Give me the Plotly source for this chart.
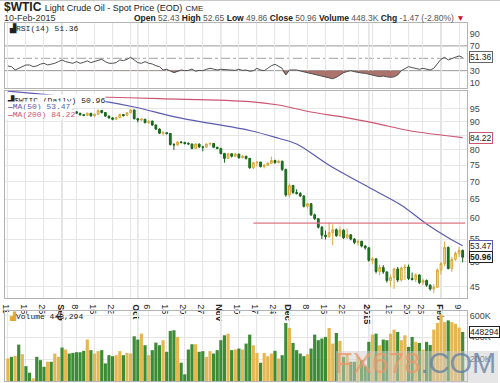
import math
import pandas as pd
import plotly.graph_objects as go

# ---------------- DATA ----------------
holidays = ['2014-09-01', '2014-11-27', '2014-12-25', '2015-01-01', '2015-01-19']
dates = [d.strftime('%Y-%m-%d') for d in pd.bdate_range('2014-08-11', '2015-02-10')
         if d.strftime('%Y-%m-%d') not in holidays]

opens = [97.6, 98.1, 97.4, 97.6, 95.6, 97.4, 96.4, 94.5, 96.1, 95.4, 94.3, 93.4, 94.0, 93.9, 94.5,
         95.9, 95.2, 95.5, 94.5, 93.9, 93.3, 92.7, 92.5, 93.3, 92.3, 92.9, 94.4, 93.6, 92.2, 91.5,
         91.0, 91.6, 92.8, 92.4, 93.5, 94.6, 91.2, 90.7, 91.0, 89.7, 90.3, 88.8, 87.3, 85.8, 86.0,
         85.7, 81.8, 81.7, 82.7, 82.5, 82.2, 82.0, 80.5, 82.0, 81.0, 80.9, 82.0, 82.2, 80.9, 80.5,
         78.8, 77.2, 78.7, 77.9, 78.6, 77.4, 77.9, 77.2, 74.2, 75.8, 76.0, 74.6, 75.0, 75.6, 76.5,
         75.8, 76.3, 73.7, 66.2, 68.9, 66.9, 66.6, 65.9, 63.1, 63.8, 60.9, 59.9, 57.8, 55.9, 55.6,
         56.5, 57.2, 55.8, 57.1, 55.3, 56.0, 55.0, 54.2, 54.5, 53.4, 53.0, 50.3, 50.6, 48.0, 48.8,
         47.9, 46.2, 46.8, 48.5, 46.3, 48.7, 48.9, 46.6, 46.4, 47.3, 45.8, 46.2, 45.3, 44.6, 44.9,
         48.3, 49.6, 53.1, 48.6, 50.5, 51.8, 52.43]
highs = [98.6, 98.3, 98.0, 97.7, 97.8, 97.5, 96.5, 96.3, 96.2, 95.6, 94.5, 94.3, 94.2, 94.9, 96.2,
         96.0, 95.9, 95.6, 94.7, 94.1, 93.5, 93.0, 93.6, 93.4, 93.2, 94.8, 94.5, 93.8, 92.4, 91.8,
         92.0, 93.2, 93.0, 93.8, 95.0, 94.7, 91.5, 91.4, 91.1, 90.6, 90.4, 89.0, 87.6, 86.5, 86.2,
         85.9, 82.3, 83.0, 83.0, 82.8, 82.6, 82.1, 82.3, 82.1, 81.4, 82.2, 82.5, 82.3, 81.0, 80.6,
         79.0, 79.0, 78.9, 78.9, 78.7, 78.2, 78.0, 77.3, 76.0, 76.3, 76.1, 75.4, 76.0, 77.8, 76.8,
         76.8, 76.4, 73.9, 69.5, 69.0, 67.8, 67.0, 66.1, 64.0, 64.0, 61.2, 60.1, 58.1, 57.0, 59.0,
         58.5, 57.5, 58.0, 57.3, 57.5, 56.1, 55.2, 54.9, 54.6, 53.6, 53.2, 51.0, 50.8, 49.4, 49.3,
         48.0, 47.3, 48.8, 48.9, 49.0, 49.5, 49.4, 47.8, 47.6, 47.4, 46.6, 46.4, 45.5, 45.5, 48.6,
         50.0, 54.4, 53.3, 51.0, 52.2, 53.2, 52.65]
lows = [97.3, 97.0, 97.0, 95.3, 95.5, 96.0, 94.2, 94.3, 95.0, 94.0, 93.1, 93.2, 93.5, 93.6, 94.3,
        94.8, 94.9, 94.2, 93.6, 93.0, 92.4, 92.2, 92.3, 92.0, 91.8, 92.6, 93.2, 91.9, 91.2, 90.6,
        90.8, 91.4, 92.0, 92.2, 93.3, 90.9, 89.8, 90.2, 89.4, 89.3, 88.5, 87.0, 85.5, 85.0, 85.3,
        81.5, 80.0, 81.3, 82.2, 81.8, 81.7, 80.2, 80.3, 80.7, 79.5, 80.7, 81.5, 80.6, 80.2, 78.5,
        75.8, 77.0, 77.5, 77.6, 77.1, 77.2, 76.8, 73.9, 73.8, 74.6, 74.3, 74.0, 74.8, 75.4, 75.5,
        75.6, 73.2, 65.7, 65.5, 66.5, 66.3, 65.6, 62.8, 62.5, 60.6, 59.6, 57.5, 55.0, 54.9, 55.3,
        53.6, 55.5, 55.5, 55.0, 55.1, 54.7, 53.8, 53.5, 53.1, 52.6, 50.0, 49.5, 47.6, 47.2, 47.5,
        45.8, 45.0, 44.6, 45.9, 46.0, 46.3, 46.3, 46.2, 45.9, 45.5, 45.3, 45.0, 44.3, 43.8, 44.8,
        47.4, 49.1, 48.4, 47.9, 50.2, 51.0, 49.86]
closes = [98.1, 97.4, 97.6, 95.6, 97.4, 96.4, 94.5, 96.1, 95.4, 94.3, 93.4, 94.0, 93.9, 94.5, 95.9,
          95.2, 95.5, 94.5, 93.9, 93.3, 92.7, 92.5, 93.3, 92.3, 92.9, 94.4, 93.6, 92.2, 91.5, 91.0,
          91.6, 92.8, 92.4, 93.5, 94.6, 91.2, 90.7, 91.0, 89.7, 90.3, 88.8, 87.3, 85.8, 86.0, 85.7,
          81.8, 81.7, 82.7, 82.5, 82.2, 82.0, 80.5, 82.0, 81.0, 80.9, 82.0, 82.2, 80.9, 80.5, 78.8,
          77.2, 78.7, 77.9, 78.6, 77.4, 77.9, 77.2, 74.2, 75.8, 76.0, 74.6, 75.0, 75.6, 76.5, 75.8,
          76.3, 73.7, 66.2, 68.9, 66.9, 66.6, 65.9, 63.1, 63.8, 60.9, 59.9, 57.8, 55.9, 55.6, 56.5,
          57.2, 55.8, 57.1, 55.3, 56.0, 55.0, 54.2, 54.5, 53.4, 53.0, 50.3, 50.6, 48.0, 48.8, 47.9,
          46.2, 46.8, 48.5, 46.3, 48.7, 48.9, 46.6, 46.4, 47.3, 45.8, 46.2, 45.3, 44.6, 44.9, 48.3,
          49.6, 53.1, 48.6, 50.5, 51.8, 52.43, 50.96]
volume_k = [206, 221, 230, 333, 245, 136, 76, 24, 221, 191, 130, 176, 176, 251, 221,
            306, 288, 251, 257, 263, 263, 276, 379, 282, 251, 273, 282, 161, 236, 227,
            236, 273, 236, 257, 251, 409, 379, 433, 327, 236, 282, 351, 327, 373, 267,
            458, 464, 403, 167, 61, 288, 336, 336, 267, 273, 221, 273, 251, 282, 373,
            418, 433, 282, 288, 297, 288, 342, 424, 327, 257, 167, 257, 227, 251, 276,
            206, 236, 530, 485, 348, 282, 251, 227, 245, 297, 424, 373, 388, 403, 485,
            342, 439, 367, 221, 251, 176, 176, 221, 191, 136, 358, 424, 433, 327, 379,
            373, 433, 470, 448, 373, 418, 312, 403, 358, 348, 288, 358, 330, 470, 530,
            609, 539, 554, 539, 524, 488, 448.294]
rsi = [37.6, 36.5, 31.1, 33.8, 37.0, 39.2, 39.2, 36.5, 37.6, 40.5, 41.9, 39.2, 40.5, 41.9, 44.6,
       47.3, 44.6, 43.0, 41.9, 44.6, 41.9, 43.5, 45.7, 43.0, 44.6, 47.0, 48.4, 44.6, 42.0, 41.9,
       43.0, 47.3, 46.2, 48.4, 51.6, 47.3, 43.0, 41.9, 44.6, 42.0, 40.8, 38.0, 36.5, 31.1, 32.2,
       29.5, 26.8, 29.0, 31.1, 30.0, 30.5, 32.7, 29.0, 30.5, 30.0, 32.2, 33.8, 32.5, 31.1, 32.2,
       31.6, 31.1, 30.0, 30.5, 32.2, 30.5, 31.1, 29.0, 30.0, 33.8, 31.0, 30.0, 33.8, 38.0, 40.3,
       37.6, 33.8, 23.0, 31.1, 31.1, 31.1, 29.5, 28.0, 26.8, 25.5, 24.6, 22.5, 21.4, 19.2, 18.0,
       17.0, 19.2, 23.0, 26.8, 28.5, 30.0, 28.4, 26.8, 26.2, 25.7, 24.0, 23.0, 21.5, 20.3, 21.4,
       20.0, 19.2, 20.0, 23.0, 30.0, 33.8, 36.5, 35.0, 33.8, 32.2, 33.8, 32.5, 31.1, 33.8, 41.9,
       48.4, 51.6, 47.3, 49.5, 51.6, 53.8, 51.36]

ma50_dates = ['2014-08-11', '2014-08-25', '2014-09-02', '2014-09-16', '2014-09-30', '2014-10-17',
              '2014-11-13', '2014-11-25', '2014-12-03', '2014-12-16', '2015-01-05', '2015-01-15',
              '2015-01-27', '2015-02-04', '2015-02-10']
ma50_vals = [102.4, 101.0, 100.3, 98.5, 95.8, 91.4, 86.8, 84.0, 82.0, 75.0, 67.8, 63.4, 58.6, 55.3, 53.47]
ma200_dates = ['2014-08-11', '2014-09-16', '2014-10-09', '2014-11-13', '2014-11-25', '2014-12-09',
               '2014-12-22', '2015-01-06', '2015-01-20', '2015-02-10']
ma200_vals = [100.3, 99.9, 99.2, 98.0, 96.6, 93.8, 91.8, 89.4, 86.8, 84.22]

resistance_level = 58.8
resistance_start = '2014-11-14'

grid_dates = ['2014-08-11', '2014-08-18', '2014-08-25', '2014-09-02', '2014-09-08', '2014-09-15',
              '2014-09-22', '2014-09-29', '2014-10-01', '2014-10-06', '2014-10-13', '2014-10-20',
              '2014-10-27', '2014-11-03', '2014-11-10', '2014-11-17', '2014-11-24', '2014-12-01',
              '2014-12-08', '2014-12-15', '2014-12-22', '2014-12-29', '2015-01-02', '2015-01-05',
              '2015-01-12', '2015-01-20', '2015-01-26', '2015-02-02', '2015-02-09']
grid_labels = ['11', '18', '25', '<b>Sep</b>', '8', '15', '22', '', '<b>Oct</b>', '6', '13', '20',
               '27', '<b>Nov</b>', '10', '17', '24', '<b>Dec</b>', '8', '15', '22', '', '<b>2015</b>', '',
               '12', '20', '26', '<b>Feb</b>', '9']
month_starts = ['2014-09-02', '2014-10-01', '2014-11-03', '2014-12-01', '2015-01-02', '2015-02-02']

price_ticks = [45, 50, 55, 60, 65, 70, 75, 80, 85, 90, 95]
rsi_ticks = [10, 30, 50, 70, 90]
vol_ticks = [200000, 400000, 600000]
vol_tick_labels = ['200K', '400K', '600K']

# ---------------- BUILD ----------------
n = len(dates)
X = list(range(n))
day = {d: i for i, d in enumerate(dates)}
volume = [v * 1000 for v in volume_k]

UP_LINE, UP_FILL = '#d8a636', '#f4dc98'
DN_LINE, DN_FILL = '#16641a', '#1f7d24'
VOL_UP, VOL_DN = '#e6b650', '#3c8c35'
MA50_C, MA200_C = '#5b5bb0', '#cc5570'

prev = [opens[0]] + closes[:-1]
vol_colors = [VOL_UP if c >= p else VOL_DN for c, p in zip(closes, prev)]

W, H = 500, 383
ML, MR, MT, MB = 5, 33, 23, 2
PW, PH = W - ML - MR, H - MT - MB


def px(p):
    return (p - ML) / PW


def py(p):
    return (H - MB - p) / PH


xr = [-0.8, 127.2]
fig = go.Figure()

# RSI panel
fig.add_trace(go.Scatter(x=X, y=[30] * n, mode='lines', line=dict(width=0, color='rgba(0,0,0,0)'),
                         xaxis='x', yaxis='y', hoverinfo='skip', showlegend=False))
fig.add_trace(go.Scatter(x=X, y=[min(v, 30) for v in rsi], mode='lines', line=dict(width=0),
                         fill='tonexty', fillcolor='rgba(150,80,70,0.8)',
                         xaxis='x', yaxis='y', hoverinfo='skip', showlegend=False))
fig.add_trace(go.Scatter(x=X, y=rsi, mode='lines', line=dict(color='#505050', width=1),
                         xaxis='x', yaxis='y', showlegend=False))

# Price panel
fig.add_trace(go.Scatter(x=[day[d] for d in ma200_dates], y=ma200_vals, mode='lines',
                         line=dict(color=MA200_C, width=1.2, shape='spline'),
                         xaxis='x2', yaxis='y2', showlegend=False))
fig.add_trace(go.Scatter(x=[day[d] for d in ma50_dates], y=ma50_vals, mode='lines',
                         line=dict(color=MA50_C, width=1.2, shape='spline'),
                         xaxis='x2', yaxis='y2', showlegend=False))
fig.add_trace(go.Scatter(x=[day[resistance_start], X[-1] + 0.7], y=[resistance_level] * 2,
                         mode='lines', line=dict(color='#e07585', width=1.2),
                         xaxis='x2', yaxis='y2', showlegend=False))
fig.add_trace(go.Candlestick(x=X, open=opens, high=highs, low=lows, close=closes,
                             increasing=dict(line=dict(color=UP_LINE, width=1), fillcolor=UP_FILL),
                             decreasing=dict(line=dict(color=DN_LINE, width=1), fillcolor=DN_FILL),
                             whiskerwidth=0, xaxis='x2', yaxis='y2', showlegend=False))

# Volume panel
fig.add_trace(go.Bar(x=X, y=volume, marker=dict(color=vol_colors, line=dict(width=0)),
                     xaxis='x3', yaxis='y3', showlegend=False))

grid_idx = [day[d] for d in grid_dates]
axis_common = dict(range=xr, tickvals=grid_idx, showgrid=True, gridcolor='#e6e6e6', gridwidth=1,
                   zeroline=False, showline=True, mirror=True, linecolor='#b4b4b4', linewidth=1,
                   ticks='', fixedrange=True)
y_common = dict(side='right', zeroline=False, showline=True, mirror=True, linecolor='#b4b4b4',
                linewidth=1, ticks='', tickfont=dict(family='Liberation Sans', size=9, color='#444'),
                gridcolor='#e6e6e6', fixedrange=True)

fig.update_layout(
    width=W, height=H, margin=dict(l=ML, r=MR, t=MT, b=MB, autoexpand=False),
    paper_bgcolor='white', plot_bgcolor='rgba(0,0,0,0)', showlegend=False, bargap=0.12,
    xaxis=dict(domain=[0, 1], anchor='y', showticklabels=False, **axis_common),
    yaxis=dict(domain=[py(88), 1], range=[2, 107], tickvals=rsi_ticks, showgrid=False, **y_common),
    xaxis2=dict(domain=[0, 1], anchor='y2', ticktext=grid_labels, showticklabels=True,
                tickfont=dict(family='Liberation Sans', size=9, color='#222'),
                ticklabelstandoff=-1,
                rangeslider=dict(visible=False), **axis_common),
    yaxis2=dict(domain=[py(298), py(91)], type='log', range=[math.log10(42.93), math.log10(102.46)],
                tickvals=price_ticks, showgrid=True, **y_common),
    xaxis3=dict(domain=[0, 1], anchor='y3', showticklabels=False, **axis_common),
    yaxis3=dict(domain=[0, py(311)], range=[0, 640000], tickvals=vol_ticks, ticktext=vol_tick_labels,
                showgrid=True, **y_common),
)

shapes = []
# RSI reference lines
shapes.append(dict(type='line', xref='paper', x0=0, x1=1, yref='y', y0=70, y1=70,
                   line=dict(color='#9a9a9a', width=1), layer='below'))
shapes.append(dict(type='line', xref='paper', x0=0, x1=1, yref='y', y0=30, y1=30,
                   line=dict(color='#9a9a9a', width=1), layer='below'))
shapes.append(dict(type='line', xref='paper', x0=0, x1=1, yref='y', y0=50, y1=50,
                   line=dict(color='#a0a0a0', width=1, dash='dashdot'), layer='below'))
# month separators
for d in month_starts:
    for yr in ['y domain', 'y2 domain', 'y3 domain']:
        shapes.append(dict(type='line', xref='x', x0=day[d], x1=day[d], yref=yr, y0=0, y1=1,
                           line=dict(color='#c6c6c6', width=1), layer='below'))
# top border line
shapes.append(dict(type='line', xref='paper', yref='paper', x0=px(0), x1=px(500), y0=py(0.5), y1=py(0.5),
                   line=dict(color='#c8c8c8', width=1)))
# watermark box
shapes.append(dict(type='rect', xref='paper', yref='paper', x0=px(336), x1=px(498), y0=py(351), y1=py(384),
                   fillcolor='rgba(205,205,205,0.5)', line=dict(width=0), layer='above'))
fig.update_layout(shapes=shapes)

ann = []
F = 'Liberation Sans'
M = 'Liberation Mono'
ann.append(dict(xref='paper', yref='paper', x=px(2), y=py(7), xanchor='left', yanchor='middle',
                showarrow=False,
                text="<b>$WTIC</b> <span style='font-size:9px'>Light Crude Oil - Spot Price (EOD)</span>"
                     " <span style='font-size:8px'>CME</span>",
                font=dict(family=F, size=12, color='#222')))
ann.append(dict(xref='paper', yref='paper', x=px(2), y=py(18), xanchor='left', yanchor='middle',
                showarrow=False, text='10-Feb-2015', font=dict(family=F, size=9, color='#333')))
quote = ("<b>Open</b> <span style='color:#555'>52.43</span> <b>High</b> <span style='color:#555'>52.65</span>"
         " <b>Low</b> <span style='color:#555'>49.86</span> <b>Close</b> <span style='color:#555'>50.96</span>"
         " <b>Volume</b> <span style='color:#555'>448.3K</span> <b>Chg</b> "
         "<span style='color:#555'>-1.47 (-2.80%)</span> <span style='color:#cc1030'>▼</span>")
ann.append(dict(xref='paper', yref='paper', x=px(467), y=py(18), xanchor='right', yanchor='middle',
                showarrow=False, text=quote, font=dict(family=F, size=8.5, color='#222')))

# panel legends
ann.append(dict(xref='paper', yref='paper', x=px(7), y=py(28), xanchor='left', yanchor='middle',
                showarrow=False, text="<b>▟</b>RSI(14) 51.36", font=dict(family=M, size=8, color='#222')))
ann.append(dict(xref='paper', yref='paper', x=px(6), y=py(100), xanchor='left', yanchor='middle',
                showarrow=False, text="<b>▟</b>$WTIC (Daily) 50.96", bgcolor='white', borderpad=0,
                font=dict(family=M, size=8, color='#222')))
ann.append(dict(xref='paper', yref='paper', x=px(6), y=py(107), xanchor='left', yanchor='middle',
                showarrow=False, text="<b>—</b>MA(50) 53.47", bgcolor='white', borderpad=0,
                font=dict(family=M, size=8, color=MA50_C)))
ann.append(dict(xref='paper', yref='paper', x=px(6), y=py(114.5), xanchor='left', yanchor='middle',
                showarrow=False, text="<b>—</b>MA(200) 84.22", bgcolor='white', borderpad=0,
                font=dict(family=M, size=8, color=MA200_C)))
ann.append(dict(xref='paper', yref='paper', x=px(7), y=py(316), xanchor='left', yanchor='middle',
                showarrow=False, text="<span style='color:#e0a830'>▟</span>Volume 448,294",
                font=dict(family=M, size=8, color='#222')))

# right-side value boxes
def vbox(yref, yval, text, border, bold=False):
    return dict(xref='paper', x=1, xanchor='left', xshift=2, yref=yref, y=yval, yanchor='middle',
                showarrow=False, text=('<b>%s</b>' % text) if bold else text, bgcolor='white',
                bordercolor=border, borderwidth=1, borderpad=0,
                font=dict(family=F, size=8.5, color='#222'))


ann.append(vbox('y', rsi[-1], '51.36', '#666'))
ann.append(vbox('y2', math.log10(ma200_vals[-1]), '84.22', MA200_C))
ann.append(vbox('y2', math.log10(ma50_vals[-1]), '53.47', MA50_C))
ann.append(vbox('y2', math.log10(closes[-1]), '50.96', '#222', bold=True))
ann.append(vbox('y3', volume[-1], '448294', '#222'))

# watermark text
ann.append(dict(xref='paper', yref='paper', x=px(415), y=py(363), xanchor='center', yanchor='middle',
                showarrow=False,
                text="<span style='color:rgba(238,150,105,0.75)'>FX678</span>"
                     "<span style='color:rgba(95,125,165,0.75)'>.COM</span>",
                font=dict(family=F, size=29)))
fig.update_layout(annotations=ann)

fig.write_html('out.html', config={'displayModeBar': False},
               post_script="document.body.style.margin='0px';document.body.style.padding='0px';"
                           "document.documentElement.style.overflow='hidden';")
